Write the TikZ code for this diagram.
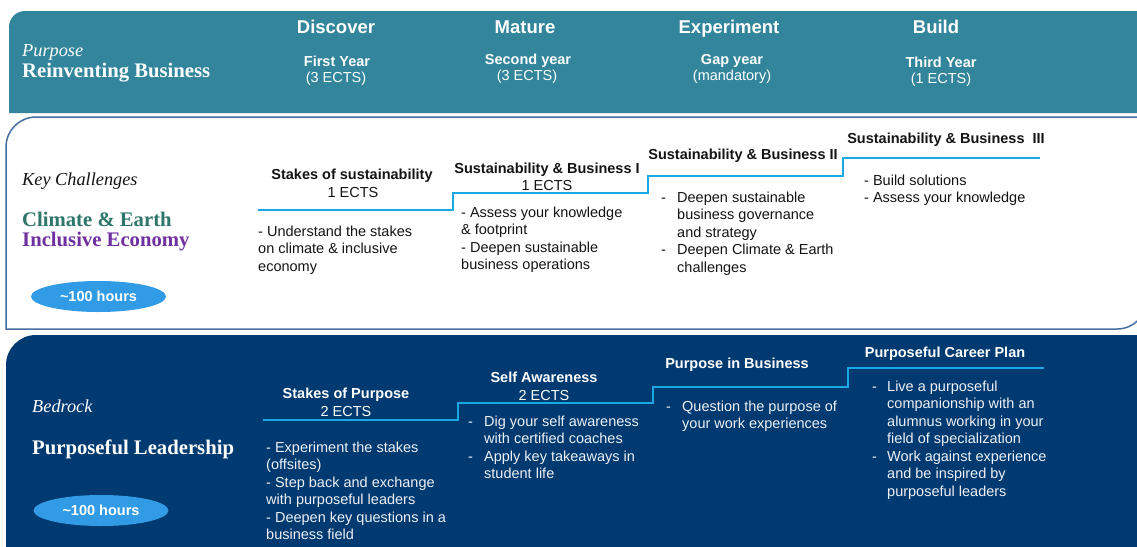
\documentclass[tikz,border=0pt]{standalone}
\usepackage{fontspec}
\setmainfont{Liberation Serif}
\setsansfont{Liberation Sans}
\usetikzlibrary{shapes.geometric}
\definecolor{bandteal}{RGB}{50,133,155}
\definecolor{panelblue}{RGB}{70,110,160}
\definecolor{navy}{RGB}{0,58,112}
\definecolor{stepcyan}{RGB}{25,168,228}
\definecolor{pillblue}{RGB}{50,155,230}
\definecolor{climate}{RGB}{46,117,106}
\definecolor{inclusive}{RGB}{112,48,160}
\definecolor{bodyblack}{RGB}{20,20,20}
\definecolor{softwhite}{RGB}{238,240,245}
\newcommand\blk[1]{\begin{tabular}[t]{@{}l@{}}#1\end{tabular}}
\newcommand\dsh{\makebox[16pt][l]{-}}
\newcommand\hng{\hspace*{16pt}}
\begin{document}
\begin{tikzpicture}[x=1pt,y=-1pt,
  hdr/.style={font=\sffamily\bfseries\fontsize{18.5}{22}\selectfont, text=white, anchor=base, inner sep=0},
  yr/.style={font=\sffamily\bfseries\fontsize{14.5}{17}\selectfont, text=white, anchor=base, inner sep=0},
  ects/.style={font=\sffamily\fontsize{14.5}{17}\selectfont, text=white, anchor=base, inner sep=0},
  sitalic/.style={font=\itshape\fontsize{18.3}{21}\selectfont, anchor=base west, inner sep=0},
  sbold/.style={font=\bfseries\fontsize{20.7}{23}\selectfont, anchor=base west, inner sep=0},
  ttl/.style={font=\sffamily\bfseries\fontsize{14.5}{17}\selectfont, anchor=base, inner sep=0},
  sub/.style={font=\sffamily\fontsize{14.5}{17}\selectfont, anchor=base, inner sep=0},
  body/.style={font=\sffamily\fontsize{14.5}{17.5}\selectfont, anchor=base west, inner sep=0},
  pill/.style={ellipse, fill=pillblue, minimum width=135pt, minimum height=31pt, inner sep=0,
    font=\sffamily\bfseries\fontsize{14.5}{17}\selectfont, text=white},
  stepline/.style={draw=stepcyan, line width=2pt}
]
\useasboundingbox (0,0) rectangle (1137,546);
\clip (0,0) rectangle (1137,546);
\fill[white] (0,0) rectangle (1137,546);

% ---------- top band ----------
\fill[bandteal] (9,113) -- (9,27) .. controls (9,18.16) and (16.16,11) .. (25,11) -- (1150,11) -- (1150,113) -- cycle;
\node[sitalic, text=white] (purpose) at (22,56) {Purpose};
\node[sbold, text=white] (reinv) at (22,77) {Reinventing Business};

\node[hdr] (discover) at (336,33) {Discover};
\node[hdr] (mature) at (525,33) {Mature};
\node[hdr] (experiment) at (729,33) {Experiment};
\node[hdr] (build) at (936,33) {Build};

\node[yr] (y1) at (337,66) {First Year};
\node[ects] (e1) at (336,82) {(3 ECTS)};
\node[yr] (y2) at (528,64) {Second year};
\node[ects] (e2) at (527,80) {(3 ECTS)};
\node[yr] (y3) at (732,64) {Gap year};
\node[ects] (e3) at (732,80) {(mandatory)};
\node[yr] (y4) at (941,67) {Third Year};
\node[ects] (e4) at (941,83) {(1 ECTS)};

% ---------- middle panel ----------
\draw[panelblue, line width=1.5pt] (5.25,329) -- (6,329) -- (6,147) .. controls (6,130.43) and (19.43,117) .. (36,117) -- (1147,117) -- (1147,299) .. controls (1147,315.57) and (1133.57,329) .. (1117,329) -- cycle;

\node[sitalic, text=bodyblack] (keych) at (22,185) {Key Challenges};
\node[sbold, text=climate] (climate) at (22,226) {Climate \& Earth};
\node[sbold, text=inclusive] (inclusive) at (22,246) {Inclusive Economy};
\node[pill] (hours1) at (98.5,296.5) {\textasciitilde100 hours};

\coordinate (m0) at (258,210);
\coordinate (m1) at (453,210);
\coordinate (m2) at (453,193);
\coordinate (m3) at (648,193);
\coordinate (m4) at (648,176);
\coordinate (m5) at (843,176);
\coordinate (m6) at (843,158);
\coordinate (m7) at (1040,158);
\draw[stepline] (m0) -- (m1) -- (m2) -- (m3) -- (m4) -- (m5) -- (m6) -- (m7);

\node[ttl, text=bodyblack] (s1) at (352,179) {Stakes of sustainability};
\node[sub, text=bodyblack] (s1e) at (353,197) {1 ECTS};
\node[ttl, text=bodyblack] (s2) at (547,173) {Sustainability \& Business I};
\node[sub, text=bodyblack] (s2e) at (547,190) {1 ECTS};
\node[ttl, text=bodyblack] (s3) at (743,159) {Sustainability \& Business II};
\node[ttl, text=bodyblack] (s4) at (946,143) {Sustainability \& Business\ \ III};

\node[body, text=bodyblack] (b1) at (258,236) {\blk{- Understand the stakes\\ on climate \& inclusive\\ economy}};
\node[body, text=bodyblack] (b2) at (461,217) {\blk{- Assess your knowledge\\ \& footprint\\ - Deepen sustainable\\ business operations}};
\node[body, text=bodyblack] (b3) at (661,202) {\blk{\dsh Deepen sustainable\\ \hng business governance\\ \hng and strategy\\ \dsh Deepen Climate \& Earth\\ \hng challenges}};
\node[body, text=bodyblack] (b4) at (864,185) {\blk{- Build solutions\\ - Assess your knowledge}};

% ---------- bottom panel ----------
\fill[navy] (6,560) -- (6,365) .. controls (6,348.43) and (19.43,335) .. (36,335) -- (1150,335) -- (1150,560) -- cycle;

\node[sitalic, text=white] (bedrock) at (32,412) {Bedrock};
\node[sbold, text=white] (pleader) at (32,454) {Purposeful Leadership};
\node[pill] (hours2) at (101,510.5) {\textasciitilde100 hours};

\coordinate (n0) at (263,420);
\coordinate (n1) at (458,420);
\coordinate (n2) at (458,403);
\coordinate (n3) at (653,403);
\coordinate (n4) at (653,387);
\coordinate (n5) at (848,387);
\coordinate (n6) at (848,368);
\coordinate (n7) at (1044,368);
\draw[stepline] (n0) -- (n1) -- (n2) -- (n3) -- (n4) -- (n5) -- (n6) -- (n7);

\node[ttl, text=white] (p1) at (346,398) {Stakes of Purpose};
\node[sub, text=white] (p1e) at (346,416) {2 ECTS};
\node[ttl, text=white] (p2) at (544,382) {Self Awareness};
\node[sub, text=white] (p2e) at (544,400) {2 ECTS};
\node[ttl, text=white] (p3) at (737,368) {Purpose in Business};
\node[ttl, text=white] (p4) at (945,357) {Purposeful Career Plan};

\node[body, text=softwhite] (c1) at (266,452) {\blk{- Experiment the stakes\\ (offsites)\\ - Step back and exchange\\ with purposeful leaders\\ - Deepen key questions in a\\ business field}};
\node[body, text=softwhite] (c2) at (468,426) {\blk{\dsh Dig your self awareness\\ \hng with certified coaches\\ \dsh Apply key takeaways in\\ \hng student life}};
\node[body, text=softwhite] (c3) at (666,411) {\blk{\dsh Question the purpose of\\ \hng your work experiences}};
\node[body, text=softwhite] (c4) at (872,391) {\blk{\makebox[15pt][l]{-}Live a purposeful\\ \hspace*{15pt}companionship with an\\ \hspace*{15pt}alumnus working in your\\ \hspace*{15pt}field of specialization\\ \makebox[15pt][l]{-}Work against experience\\ \hspace*{15pt}and be inspired by\\ \hspace*{15pt}purposeful leaders}};
\end{tikzpicture}
\end{document}
